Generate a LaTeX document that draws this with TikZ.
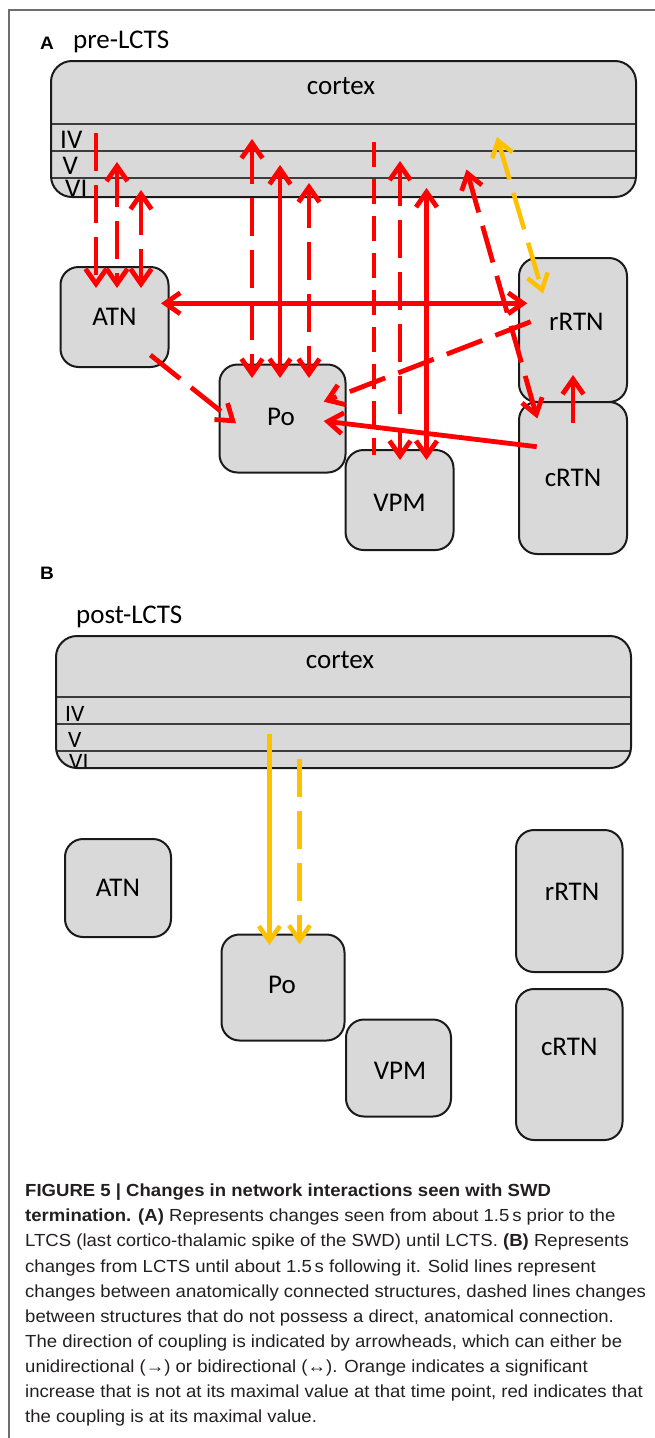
\documentclass[tikz,border=0pt]{standalone}
\usepackage{fontspec}
\setmainfont{Carlito}
\newfontfamily\capfont[FakeStretch=1.06]{Liberation Sans}
\usetikzlibrary{arrows.meta,calc}

\definecolor{boxfill}{RGB}{217,217,217}
\definecolor{boxline}{RGB}{26,26,26}
\definecolor{layergrey}{RGB}{60,60,60}
\definecolor{couplered}{RGB}{255,0,0}
\definecolor{coupleorange}{RGB}{255,192,0}
\definecolor{framegrey}{RGB}{110,110,110}
\definecolor{captext}{RGB}{35,31,32}

\begin{document}
\begin{tikzpicture}[x=1pt,y=-1pt,
  >={Straight Barb[length=15pt,width=21pt]},
  box/.style={draw=boxline, fill=boxfill, line width=2pt, rounded corners=18pt,
    inner sep=0pt, outer sep=0pt},
  cortexfill/.style={fill=boxfill, draw=none, rounded corners=21pt, inner sep=0pt, outer sep=0pt},
  lbl/.style={font=\fontsize{27}{32}\selectfont, inner sep=0pt, text=black},
  boxlbl/.style={lbl, name=#1},
  layerlbl/.style={lbl, anchor=base west},
  layerlblB/.style={font=\fontsize{23.5}{28}\selectfont, inner sep=0pt, anchor=base west},
  layerline/.style={draw=layergrey, line width=1.6pt},
  panellbl/.style={font=\capfont\bfseries\fontsize{18}{21}\selectfont, anchor=base, inner sep=0pt},
  redc/.style={draw=couplered, line width=4.8pt},
  orangec/.style={draw=coupleorange, line width=4.5pt},
  indirect/.style={dash pattern=on 38pt off 14pt},
  indirectshort/.style={dash pattern=on 25pt off 12pt},
  capline/.style={font=\capfont\fontsize{17.5}{25}\selectfont, anchor=base west,
    inner sep=0pt, text=captext},
]
\useasboundingbox (0,0) rectangle (655,1438);
\draw[draw=framegrey, line width=1.3pt] (655,10) -- (9,10) -- (9,1438);

% ---------------- panel A: pre-LCTS ----------------
\node[panellbl] (labA) at (47,49) {A};
\node[lbl, anchor=base west] (titA) at (73,48.3) {pre-LCTS};

\node[cortexfill, minimum width=585pt, minimum height=136pt] (cxA) at (343.5,129) {};
\begin{scope}
  \clip[rounded corners=21pt] (cxA.north west) rectangle (cxA.south east);
  \draw[layerline] ($(cxA.north west)+(0,63)$) -- ($(cxA.north east)+(0,63)$);
  \draw[layerline] ($(cxA.north west)+(0,90)$) -- ($(cxA.north east)+(0,90)$);
  \draw[layerline] ($(cxA.north west)+(0,117)$) -- ($(cxA.north east)+(0,117)$);
  \node[layerlbl] (IVa) at ($(cxA.north west)+(9,87.3)$) {IV};
  \node[layerlbl] (Va) at ($(cxA.north west)+(11.5,113)$) {V};
  \node[layerlbl] (VIa) at ($(cxA.north west)+(14,136.5)$) {VI};
\end{scope}
\draw[draw=boxline, line width=2pt, rounded corners=21pt] (cxA.north west) rectangle (cxA.south east);
\node[lbl, anchor=base] (cxAt) at ($(cxA.north)+(-2.5,33)$) {cortex};

\node[box, minimum width=108pt, minimum height=100pt,
  label={[boxlbl=ATNaT]center:ATN}] (ATNa) at (114.5,317) {};
\node[box, minimum width=126pt, minimum height=108pt,
  label={[boxlbl=PoaT, xshift=-1.5pt, yshift=1.5pt]center:Po}] (Poa) at (282.5,418.5) {};
\node[box, minimum width=108pt, minimum height=100pt,
  label={[boxlbl=VPMaT, yshift=-2.5pt]center:VPM}] (VPMa) at (399.5,500) {};
\node[box, minimum width=108pt, minimum height=144pt,
  label={[boxlbl=rRTNaT, xshift=3.4pt, yshift=8.3pt]center:rRTN}] (rRTNa) at (573,330) {};
\node[box, minimum width=108pt, minimum height=152pt,
  label={[boxlbl=cRTNaT]center:cRTN}] (cRTNa) at (573,478) {};

% cortex <-> ATN
\draw[redc, indirect, ->] ($(cxA.north west)+(45,72)$) -- ($(ATNa.north west)+(35.5,21)$);
\draw[redc, indirect, <->] ($(cxA.north west)+(66,101)$) -- ($(ATNa.north west)+(56.5,21)$);
\draw[redc, indirect, <->] ($(cxA.north west)+(90,129)$) -- ($(ATNa.north west)+(80.5,21)$);
% cortex <-> Po
\draw[redc, indirect, <->] ($(cxA.north west)+(201,78)$) -- ($(Poa.north west)+(32.5,13.5)$);
\draw[redc, <->] ($(cxA.north west)+(229,104)$) -- ($(Poa.north west)+(60.5,13.5)$);
\draw[redc, indirect, <->] ($(cxA.north west)+(258,122)$) -- ($(Poa.north west)+(89.5,13.5)$);
% cortex <-> VPM
\draw[redc, indirectshort] ($(cxA.north west)+(323,81)$) -- ($(VPMa.north west)+(28.5,5)$);
\draw[redc, indirect, <->] ($(cxA.north west)+(349,100)$) -- ($(VPMa.north west)+(54.5,10)$);
\draw[redc, <->] ($(cxA.north west)+(375.5,127)$) -- ($(VPMa.north west)+(81,10)$);
% cortex <-> RTN
\draw[redc, indirect, <->] ($(cxA.north west)+(415.5,108.5)$) -- ($(cRTNa.north west)+(18.3,16.5)$);
\draw[orangec, indirect, <->] ($(cxA.north west)+(446,76)$) -- ($(rRTNa.north west)+(24,35.5)$);
% thalamic couplings
\draw[redc, <->] ($(ATNa.north west)+(100.5,36.3)$) -- ($(rRTNa.north west)+(8.3,45.3)$);
\draw[redc, indirect, ->] ($(rRTNa.north west)+(11.7,63.7)$) -- ($(Poa.north west)+(104.2,37.2)$);
\draw[redc, indirect, ->] ($(ATNa.north west)+(89.9,88)$) -- ($(Poa.north west)+(16.5,58.8)$);
\draw[redc, ->] ($(cRTNa.north west)+(17.7,44.7)$) -- ($(Poa.north west)+(104.2,56.5)$);
\draw[redc, ->] ($(cRTNa.north west)+(54,21.3)$) -- ($(rRTNa.north west)+(54,117)$);

% ---------------- panel B: post-LCTS ----------------
\node[panellbl] (labB) at (47,579) {B};
\node[lbl, anchor=base west] (titB) at (76,623) {post-LCTS};

\node[cortexfill, minimum width=575pt, minimum height=132pt] (cxB) at (343.5,702) {};
\begin{scope}
  \clip[rounded corners=21pt] (cxB.north west) rectangle (cxB.south east);
  \draw[layerline] ($(cxB.north west)+(0,61)$) -- ($(cxB.north east)+(0,61)$);
  \draw[layerline] ($(cxB.north west)+(0,88)$) -- ($(cxB.north east)+(0,88)$);
  \draw[layerline] ($(cxB.north west)+(0,115)$) -- ($(cxB.north east)+(0,115)$);
  \node[layerlblB] (IVb) at ($(cxB.north west)+(9,85.7)$) {IV};
  \node[layerlblB] (Vb) at ($(cxB.north west)+(12,111.3)$) {V};
  \node[layerlblB] (VIb) at ($(cxB.north west)+(13,133.5)$) {VI};
\end{scope}
\draw[draw=boxline, line width=2pt, rounded corners=21pt] (cxB.north west) rectangle (cxB.south east);
\node[lbl, anchor=base] (cxBt) at ($(cxB.north)+(-3.5,32)$) {cortex};

\node[box, minimum width=106pt, minimum height=98pt,
  label={[boxlbl=ATNbT]center:ATN}] (ATNb) at (118,888) {};
\node[box, minimum width=123pt, minimum height=106pt,
  label={[boxlbl=PobT, xshift=-1pt, yshift=2.5pt]center:Po}] (Pob) at (283,987.5) {};
\node[box, minimum width=105pt, minimum height=97pt,
  label={[boxlbl=VPMbT, xshift=1.5pt, yshift=-2.7pt]center:VPM}] (VPMb) at (398.5,1068) {};
\node[box, minimum width=106.5pt, minimum height=142pt,
  label={[boxlbl=rRTNbT, xshift=2.8pt, yshift=9.3pt]center:rRTN}] (rRTNb) at (569.25,901) {};
\node[box, minimum width=106.5pt, minimum height=151pt,
  label={[boxlbl=cRTNbT, yshift=17.8pt]center:cRTN}] (cRTNb) at (569.25,1064.5) {};

\draw[orangec, ->] ($(cxB.north west)+(213.4,98)$) -- ($(Pob.north west)+(47.9,10.5)$);
\draw[orangec, indirect, ->] ($(cxB.north west)+(243.5,123)$) -- ($(Pob.north west)+(78,9.8)$);

% ---------------- caption ----------------
\node[capline] (cap1) at (25,1196.7) {\bfseries FIGURE 5 | Changes in network interactions seen with SWD};
\node[capline] (cap2) at (25,1221.8) {\textbf{termination. (A)} Represents changes seen from about 1.5\,s prior to the};
\node[capline] (cap3) at (25,1246.9) {LTCS (last cortico-thalamic spike of the SWD) until LCTS. \textbf{(B)} Represents};
\node[capline] (cap4) at (25,1272.0) {changes from LCTS until about 1.5\,s following it. Solid lines represent};
\node[capline] (cap5) at (25,1297.1) {changes between anatomically connected structures, dashed lines changes};
\node[capline] (cap6) at (25,1322.2) {between structures that do not possess a direct, anatomical connection.};
\node[capline] (cap7) at (25,1347.3) {The direction of coupling is indicated by arrowheads, which can either be};
\node[capline] (cap8) at (25,1372.4) {unidirectional (→) or bidirectional (↔). Orange indicates a significant};
\node[capline] (cap9) at (25,1397.5) {increase that is not at its maximal value at that time point, red indicates that};
\node[capline] (cap10) at (25,1422.6) {the coupling is at its maximal value.};
\end{tikzpicture}
\end{document}
